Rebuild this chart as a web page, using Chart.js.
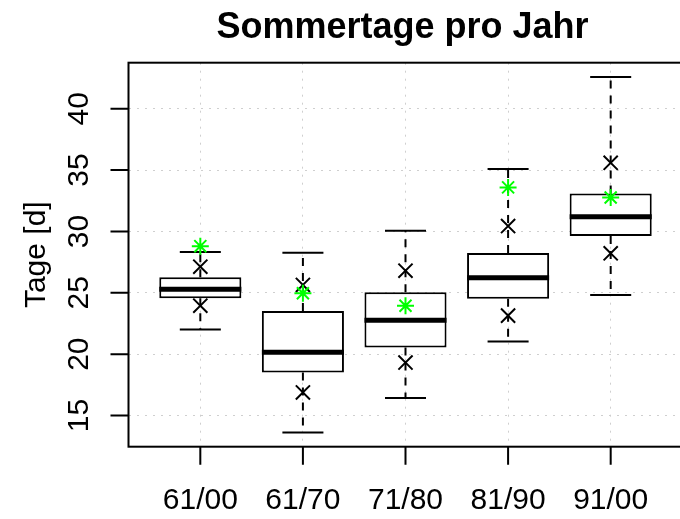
<!DOCTYPE html>
<html>
<head>
<meta charset="utf-8">
<script src="https://cdn.jsdelivr.net/npm/chart.js@4.4.1/dist/chart.umd.min.js"></script>
<style>
  html, body { margin: 0; padding: 0; background: #fff; overflow: hidden; }
  #wrap { width: 680px; height: 519px; overflow: hidden; }
</style>
</head>
<body>
<div id="wrap"><canvas id="box_canvas" width="684" height="519"></canvas></div>
<script>
// values
var labels = ['61/00', '61/70', '71/80', '81/90', '91/00'];
var lowerWhisker = [22.0, 13.62, 16.42, 21.03, 24.83];
var q1 = [24.56, 18.5, 20.54, 24.52, 29.63];
var median = [25.29, 20.16, 22.77, 26.23, 31.2];
var q3 = [26.27, 23.52, 25.04, 28.24, 33.1];
var upperWhisker = [28.32, 28.27, 30.06, 35.08, 42.59];
var crossLow = [23.95, 16.88, 19.32, 23.14, 28.22];
var crossHigh = [27.13, 25.64, 26.8, 30.44, 35.59];
var greenMark = [28.8, 24.96, 23.95, 33.59, 32.77];
var yTicks = [15, 20, 25, 30, 35, 40];

var positions = labels.map(function(l, i){ return i + 1; });
var FONT = '"Liberation Sans", Arial, sans-serif';

// build gap-separated line segments from the arrays
function segments(fn) {
  var out = [];
  positions.forEach(function(p, i){
    fn(p, i).forEach(function(seg){
      out.push({x: seg[0], y: seg[1]}, {x: seg[2], y: seg[3]}, {x: seg[2], y: null});
    });
  });
  return out;
}

var whiskers = segments(function(p, i){
  return [[p, q3[i], p, upperWhisker[i]], [p, q1[i], p, lowerWhisker[i]]];
});
var staples = segments(function(p, i){
  return [[p - 0.2, upperWhisker[i], p + 0.2, upperWhisker[i]], [p - 0.2, lowerWhisker[i], p + 0.2, lowerWhisker[i]]];
});
var medians = segments(function(p, i){
  return [[p - 0.4, median[i], p + 0.4, median[i]]];
});

var rAxes = {
  id: 'rAxes',
  afterDraw: function(chart) {
    var ctx = chart.ctx, a = chart.chartArea;
    var xs = chart.scales.x, ys = chart.scales.y;
    ctx.save();
    ctx.strokeStyle = '#000';
    ctx.lineWidth = 2;
    ctx.strokeRect(a.left, a.top, a.right - a.left, a.bottom - a.top);
    ctx.beginPath();
    yTicks.forEach(function(v){
      var y = ys.getPixelForValue(v);
      ctx.moveTo(a.left - 18, y); ctx.lineTo(a.left, y);
    });
    positions.forEach(function(p){
      var x = xs.getPixelForValue(p);
      ctx.moveTo(x, a.bottom); ctx.lineTo(x, a.bottom + 18);
    });
    ctx.stroke();

    ctx.fillStyle = '#000';
    ctx.font = '30px ' + FONT;
    ctx.textAlign = 'center';
    ctx.textBaseline = 'alphabetic';
    labels.forEach(function(l, i){
      ctx.fillText(l, xs.getPixelForValue(positions[i]), a.bottom + 62);
    });
    yTicks.forEach(function(v){
      ctx.save();
      ctx.translate(a.left - 40.5, ys.getPixelForValue(v));
      ctx.rotate(-Math.PI / 2);
      ctx.fillText(String(v), 0, 0);
      ctx.restore();
    });
    ctx.save();
    ctx.translate(45, (a.top + a.bottom) / 2);
    ctx.rotate(-Math.PI / 2);
    ctx.fillText('Tage [d]', 0, 0);
    ctx.restore();

    ctx.font = 'bold 36px ' + FONT;
    ctx.fillText('Sommertage pro Jahr', (a.left + a.right) / 2 - 3, 37.5);
    ctx.restore();
  }
};

var gridOpts = { color: '#cfcfcf', lineWidth: 1, drawTicks: false };

new Chart(document.getElementById('box_canvas').getContext('2d'), {
  type: 'bar',
  data: {
    datasets: [{
      type: 'bar',
      label: 'box',
      data: positions.map(function(p, i){ return {x: p, y: [q1[i], q3[i]]}; }),
      backgroundColor: '#fff',
      borderColor: '#000',
      borderWidth: 2,
      borderSkipped: false,
      categoryPercentage: 0.8,
      barPercentage: 1.0,
      order: 3
    }, {
      type: 'line',
      label: 'whiskers',
      data: whiskers,
      borderColor: '#000',
      borderWidth: 2,
      borderDash: [8, 7],
      pointRadius: 0,
      spanGaps: false,
      order: 5
    }, {
      type: 'line',
      label: 'staples',
      data: staples,
      borderColor: '#000',
      borderWidth: 2,
      pointRadius: 0,
      spanGaps: false,
      order: 4
    }, {
      type: 'line',
      label: 'median',
      data: medians,
      borderColor: '#000',
      borderWidth: 5,
      borderCapStyle: 'butt',
      pointRadius: 0,
      spanGaps: false,
      order: 2
    }, {
      type: 'scatter',
      label: 'cross',
      data: positions.map(function(p, i){ return {x: p, y: crossLow[i]}; })
        .concat(positions.map(function(p, i){ return {x: p, y: crossHigh[i]}; })),
      pointStyle: 'crossRot',
      pointRadius: 10,
      borderColor: '#000',
      borderWidth: 2,
      order: 1
    }, {
      type: 'scatter',
      label: 'green',
      data: positions.map(function(p, i){ return {x: p, y: greenMark[i]}; }),
      pointStyle: 'star',
      pointRadius: 8.5,
      borderColor: '#00ff00',
      borderWidth: 2,
      order: 0
    }]
  },
  options: {
    responsive: false,
    animation: false,
    events: [],
    layout: { autoPadding: false, padding: { left: 128.5, top: 62.7, right: 1.5, bottom: 72.3 } },
    plugins: { legend: { display: false }, tooltip: { enabled: false }, title: { display: false } },
    scales: {
      x: {
        type: 'linear',
        min: 0.3, max: 5.7,
        offset: false,
        ticks: { display: false, stepSize: 1 },
        grid: Object.assign({ offset: false }, gridOpts),
        border: { display: false, dash: [2, 6] },
        afterBuildTicks: function(s){
          s.ticks = s.ticks.filter(function(t){ return positions.indexOf(t.value) >= 0; });
        }
      },
      y: {
        type: 'linear',
        min: 12.46, max: 43.75,
        ticks: { display: false, stepSize: 5 },
        grid: gridOpts,
        border: { display: false, dash: [2, 6] },
        afterBuildTicks: function(s){
          s.ticks = s.ticks.filter(function(t){ return yTicks.indexOf(t.value) >= 0; });
        }
      }
    }
  },
  plugins: [rAxes]
});
</script>
</body>
</html>
